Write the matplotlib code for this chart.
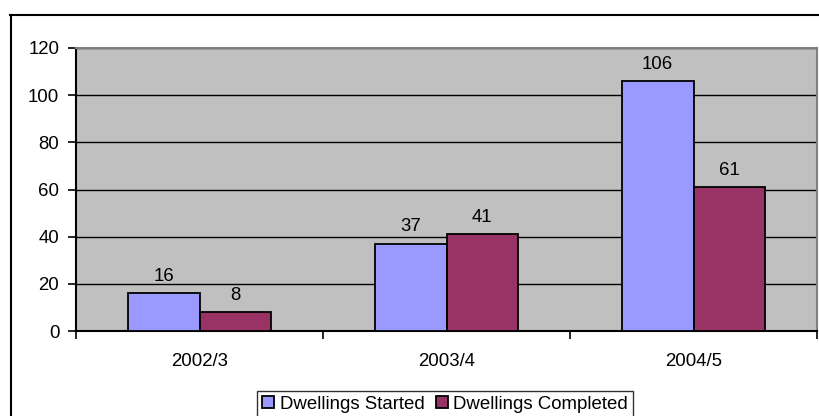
import matplotlib
matplotlib.use("Agg")
import matplotlib.pyplot as plt
from matplotlib.lines import Line2D
from matplotlib.patches import Patch

plt.rcParams['font.family'] = ['Liberation Sans', 'DejaVu Sans']

years = ["2002/3", "2003/4", "2004/5"]
started = [16, 37, 106]
completed = [8, 41, 61]
series_names = ["Dwellings Started", "Dwellings Completed"]
colors = ["#9999FF", "#993366"]
y_ticks = [0, 20, 40, 60, 80, 100, 120]

FS = 13.4
W, H = 819, 416
fig = plt.figure(figsize=(W / 100, H / 100), dpi=100)
fig.patch.set_facecolor("white")

# outer chart frame (top and left edges)
fig.add_artist(Line2D([10 / W, 818 / W], [1 - 15 / H, 1 - 15 / H],
                      transform=fig.transFigure, color="black", lw=1.5))
fig.add_artist(Line2D([10.5 / W, 10.5 / W], [1 - 15 / H, 0],
                      transform=fig.transFigure, color="black", lw=1.5))

ax = fig.add_axes([76 / W, 1 - 331 / H, (817 - 76) / W, (331 - 48) / H])
ax.set_facecolor("#C0C0C0")

x = list(range(len(years)))
bw = 0.29
b1 = ax.bar([i - bw / 2 for i in x], started, width=bw, color=colors[0],
            edgecolor="black", linewidth=1.3, zorder=3)
b2 = ax.bar([i + bw / 2 for i in x], completed, width=bw, color=colors[1],
            edgecolor="black", linewidth=1.3, zorder=3)
ax.bar_label(b1, labels=[str(v) for v in started], padding=6, fontsize=FS)
ax.bar_label(b2, labels=[str(v) for v in completed], padding=6, fontsize=FS)

ax.set_xlim(-0.5, len(years) - 0.5)
ax.set_ylim(0, 120)
ax.set_yticks(y_ticks)
ax.yaxis.grid(True, color="black", linewidth=1.0, zorder=1)
ax.set_axisbelow(True)
ax.tick_params(axis="y", direction="out", length=6, width=1.2, pad=6,
               labelsize=FS)

# category boundary ticks, labels centred between them
ax.set_xticks([i - 0.5 for i in range(len(years) + 1)])
ax.set_xticklabels([])
ax.set_xticks(x, minor=True)
ax.set_xticklabels(years, minor=True)
ax.tick_params(axis="x", which="major", direction="out", length=6, width=1.2)
ax.tick_params(axis="x", which="minor", length=0, pad=16, labelsize=FS)

for s in ["left", "bottom"]:
    ax.spines[s].set_color("black")
    ax.spines[s].set_linewidth(1.5)
for s in ["top", "right"]:
    ax.spines[s].set_color("#808080")
    ax.spines[s].set_linewidth(1.5)

handles = [Patch(facecolor=c, edgecolor="black", linewidth=1.3) for c in colors]
leg = fig.legend(handles, series_names, loc="upper center",
                 bbox_to_anchor=(445 / W, 1 - 391 / H), ncol=2, fontsize=FS,
                 frameon=True, fancybox=False, handlelength=0.65,
                 handleheight=0.65, handletextpad=0.3, columnspacing=0.6,
                 borderpad=0.25, borderaxespad=0)
leg.get_frame().set_edgecolor("black")
leg.get_frame().set_linewidth(1.0)

fig.savefig("out.png", dpi=100, facecolor="white")
